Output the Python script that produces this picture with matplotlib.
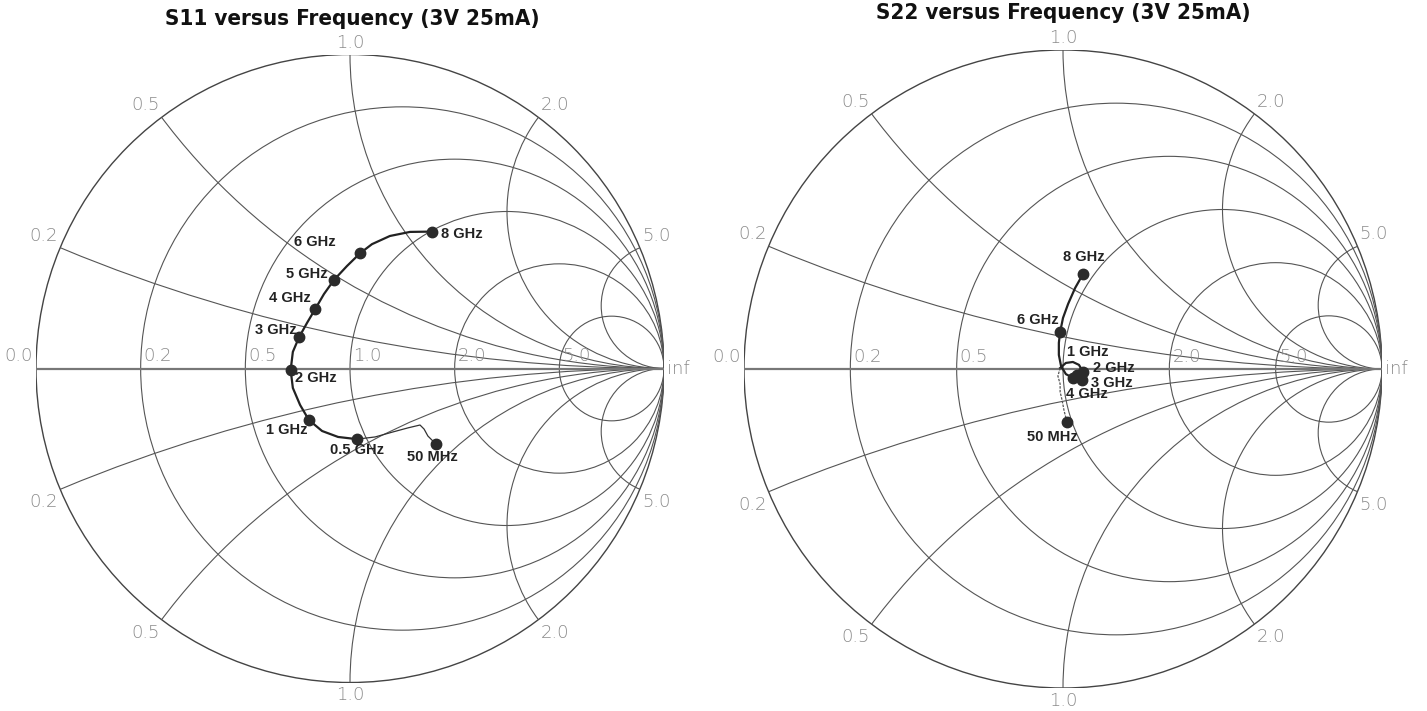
import numpy as np
import matplotlib
matplotlib.use("Agg")
import matplotlib.pyplot as plt
from matplotlib.patches import Circle

# Smith chart grid
r_vals = [0.2, 0.5, 1.0, 2.0, 5.0]
x_vals = [0.2, 0.5, 1.0, 2.0, 5.0]
grid_labels = ["0.2", "0.5", "1.0", "2.0", "5.0"]

# S11 trace (reflection coefficient re / im), 8 GHz -> 0.5 GHz
s11_re = [0.260, 0.191, 0.127, 0.070, 0.032, -0.010, -0.051, -0.083, -0.111, -0.137,
          -0.162, -0.182, -0.189, -0.182, -0.159, -0.131, -0.089, -0.038, 0.022]
s11_im = [0.436, 0.435, 0.422, 0.396, 0.367, 0.326, 0.282, 0.237, 0.189, 0.145,
          0.100, 0.053, -0.005, -0.062, -0.116, -0.164, -0.199, -0.218, -0.225]
# S11 low frequency part, 0.5 GHz -> 50 MHz
s11_low_re = [0.022, 0.080, 0.137, 0.185, 0.223, 0.236, 0.248, 0.273]
s11_low_im = [-0.225, -0.218, -0.202, -0.189, -0.180, -0.193, -0.215, -0.240]
# S11 markers
s11_freq = ["8 GHz", "6 GHz", "5 GHz", "4 GHz", "3 GHz", "2 GHz", "1 GHz", "0.5 GHz", "50 MHz"]
s11_mre = [0.260, 0.032, -0.050, -0.111, -0.161, -0.189, -0.130, 0.021, 0.273]
s11_mim = [0.436, 0.367, 0.282, 0.189, 0.101, -0.005, -0.164, -0.225, -0.240]

# S22 low frequency part, 50 MHz -> ~1 GHz
s22_low_re = [0.012, 0.003, -0.003, -0.009, -0.009, -0.016, -0.009]
s22_low_im = [-0.165, -0.129, -0.097, -0.072, -0.047, -0.022, 0.003]
# S22 trace, loop -> 8 GHz
s22_re = [-0.009, 0.009, 0.031, 0.050, 0.063, 0.060, 0.041, 0.031, 0.009, -0.006,
          -0.013, -0.013, -0.009, 0.000, 0.016, 0.038, 0.063]
s22_im = [0.003, 0.019, 0.022, 0.013, -0.009, -0.034, -0.038, -0.028, -0.016, 0.009,
          0.044, 0.082, 0.116, 0.160, 0.204, 0.254, 0.298]
# S22 markers
s22_freq = ["8 GHz", "6 GHz", "1 GHz", "2 GHz", "3 GHz", "4 GHz", "50 MHz"]
s22_mre = [0.064, -0.009, 0.044, 0.063, 0.059, 0.032, 0.012]
s22_mim = [0.298, 0.117, -0.019, -0.009, -0.034, -0.027, -0.165]

# label offsets in pixels (dx, dy)
s11_off = [(9, -2), (-45, 11), (-27, 6), (-25, 11), (-24, 7), (25, -8), (-22, -10), (0, -11), (-3, -13)]
s11_ha = ["left", "center", "center", "center", "center", "center", "center", "center", "center"]
s22_off = [(0, 17), (-22, 12), (11, 23), (31, 4), (30, -3), (14, -16), (-14, -15)]

W, H = 1427, 711
fig = plt.figure(figsize=(W / 100, H / 100), dpi=100)

grid_col = "#555555"
lab_col = "#8a8a8a"
lab_font = dict(fontsize=13, color=lab_col, fontweight="light", family="DejaVu Sans")


def smith(ax, skip_center=False):
    ax.set_xlim(-1, 1)
    ax.set_ylim(-1, 1)
    ax.axis("off")
    outer = Circle((0, 0), 1, fill=False, color="#444444", lw=1.0)
    ax.add_patch(outer)
    clip = Circle((0, 0), 1, transform=ax.transData, fill=False, lw=0)
    ax.add_patch(clip)
    for r in r_vals:
        c = Circle((r / (r + 1), 0), 1 / (r + 1), fill=False, color=grid_col, lw=0.8)
        ax.add_patch(c)
    for x in x_vals:
        for s in (1, -1):
            c = Circle((1, s / x), 1 / x, fill=False, color=grid_col, lw=0.8)
            ax.add_patch(c)
            c.set_clip_path(clip)
    ax.plot([-1, 1], [0, 0], color="#777777", lw=1.6)
    # resistance labels
    ax.text(-1.01, 0.01, "0.0", ha="right", va="bottom", **lab_font)
    for r, t in zip(r_vals, grid_labels):
        if skip_center and r == 1.0:
            continue  # hidden under the 1 GHz label
        ax.text((r - 1) / (r + 1) + 0.01, 0.01, t, ha="left", va="bottom", **lab_font)
    ax.text(1.01, 0.0, "inf", ha="left", va="center", **lab_font)
    # reactance labels around the rim
    for x, t in zip(x_vals, grid_labels):
        for s in (1, -1):
            gx = (x * x - 1) / (x * x + 1)
            gy = s * 2 * x / (x * x + 1)
            if abs(gx) < 0.01:
                ha, dx = "center", 0
            elif gx < 0:
                ha, dx = "right", -2
            else:
                ha, dx = "left", 2
            va, dy = ("bottom", 3) if gy > 0 else ("top", -4)
            ax.annotate(t, (gx, gy), xytext=(dx, dy), textcoords="offset pixels",
                        ha=ha, va=va, **lab_font)


def markers(ax, re, im, names, offs, has):
    ax.plot(re, im, "o", color="#2b2b2b", ms=7.5, zorder=5)
    for x, y, n, o, h in zip(re, im, names, offs, has):
        ax.annotate(n, (x, y), xytext=o, textcoords="offset pixels", ha=h, va="center",
                    fontsize=10.5, fontweight="bold", family="Liberation Sans", color="#222222",
                    zorder=6)


# left chart: center (350, 368.5), R 314
axl = fig.add_axes([(350 - 314) / W, (H - 368.5 - 314) / H, 628 / W, 628 / H])
smith(axl)
axl.plot(s11_re, s11_im, color="#222222", lw=1.6, zorder=4)
axl.plot(s11_low_re, s11_low_im, color="#333333", lw=0.9, zorder=4)
markers(axl, s11_mre, s11_mim, s11_freq, s11_off, s11_ha)

# right chart: center (1063, 369), R 319
axr = fig.add_axes([(1063 - 319) / W, (H - 369 - 319) / H, 638 / W, 638 / H])
smith(axr, skip_center=True)
axr.plot(s22_re, s22_im, color="#222222", lw=1.6, zorder=4)
axr.plot(s22_low_re, s22_low_im, color="#555555", lw=0.9, ls=(0, (2, 1)), zorder=4)
markers(axr, s22_mre, s22_mim, s22_freq, s22_off, ["center"] * len(s22_freq))

title_font = dict(fontsize=16, fontweight="bold", family="DejaVu Sans", fontstretch="condensed",
                  ha="center", va="center", color="#111111")
fig.text(352 / W, 1 - 19 / H, "S11 versus Frequency (3V 25mA)", **title_font)
fig.text(1063 / W, 1 - 13 / H, "S22 versus Frequency (3V 25mA)", **title_font)

fig.savefig("out.png", dpi=100)
